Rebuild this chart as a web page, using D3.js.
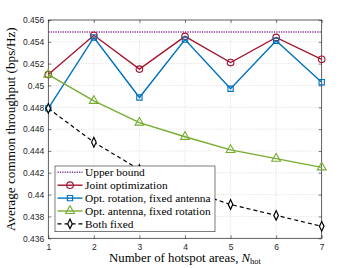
<!DOCTYPE html>
<html><head><meta charset="utf-8">
<script src="https://cdn.jsdelivr.net/npm/d3@7"></script>
<style>body{margin:0;background:#fff}svg{display:block}</style>
</head><body>
<svg id="c" width="357" height="268"></svg>
<script>
const xs = [1,2,3,4,5,6,7];
const upperBound = [0.4549,0.4549,0.4549,0.4549,0.4549,0.4549,0.4549];
const joint = [0.4510,0.4546,0.4515,0.4545,0.4521,0.4544,0.4524];
const optRot = [0.4479,0.4544,0.4489,0.4542,0.4497,0.4541,0.4503];
const optAnt = [0.4510,0.4486,0.4466,0.4453,0.4441,0.4433,0.4425];
const bothFixed = [0.4479,0.4448,0.4423,0.4405,0.4391,0.4381,0.4371];
const yTicks = [0.436,0.438,0.44,0.442,0.444,0.446,0.448,0.45,0.452,0.454,0.456];
const yTickLabels = ["0.436","0.438","0.44","0.442","0.444","0.446","0.448","0.45","0.452","0.454","0.456"];
const seriesNames = ["Upper bound","Joint optimization","Opt. rotation, fixed antenna","Opt. antenna, fixed rotation","Both fixed"];

const svg = d3.select("#c");
const L=48.3,R=321.7,T=20,B=238.3;
const x = d3.scaleLinear().domain([1,7]).range([L,R]);
const y = d3.scaleLinear().domain([0.436,0.456]).range([B,T]);

// grid
const g = svg.append("g");
g.selectAll(".gx").data(xs).join("line").attr("x1",d=>x(d)).attr("x2",d=>x(d)).attr("y1",T).attr("y2",B)
 .attr("stroke","#c8c8c8").attr("stroke-width",0.6).attr("stroke-dasharray","1,1.5");
g.selectAll(".gy").data(yTicks).join("line").attr("y1",d=>y(d)).attr("y2",d=>y(d)).attr("x1",L).attr("x2",R)
 .attr("stroke","#c8c8c8").attr("stroke-width",0.6).attr("stroke-dasharray","1,1.5");

// axes
const xAxis = d3.axisBottom(x).tickValues(xs).tickSize(-3).tickSizeOuter(0).tickPadding(6).tickFormat(d3.format("d"));
const yAxis = d3.axisLeft(y).tickValues(yTicks).tickSize(-3).tickSizeOuter(0).tickPadding(4).tickFormat((d,i)=>yTickLabels[i]);
svg.append("g").attr("transform",`translate(0,${B})`).call(xAxis);
svg.append("g").attr("transform",`translate(${L},0)`).call(yAxis);
svg.append("g").attr("transform",`translate(0,${T})`).call(d3.axisTop(x).tickValues(xs).tickSize(-3).tickSizeOuter(0).tickFormat(""));
svg.append("g").attr("transform",`translate(${R},0)`).call(d3.axisRight(y).tickValues(yTicks).tickSize(-3).tickSizeOuter(0).tickFormat(""));
svg.selectAll(".domain").remove();
svg.selectAll(".tick line").attr("stroke","#262626").attr("stroke-width",0.6);
svg.selectAll(".tick text").attr("font-family","'Liberation Sans', Arial, sans-serif").attr("font-size",8.5).attr("fill","#262626");
svg.append("rect").attr("x",L).attr("y",T).attr("width",R-L).attr("height",B-T).attr("fill","none").attr("stroke","#262626").attr("stroke-width",0.7);

const line = d3.line().x((d,i)=>x(xs[i])).y(d=>y(d));
const series = [
 {name:seriesNames[0],data:upperBound,color:"#7E2F8E",dash:"1.2,1.2",marker:null,w:1.6},
 {name:seriesNames[1],data:joint,color:"#A2142F",dash:null,marker:"circle",w:1.4},
 {name:seriesNames[2],data:optRot,color:"#0072BD",dash:null,marker:"square",w:1.4},
 {name:seriesNames[3],data:optAnt,color:"#77AC30",dash:null,marker:"triangle",w:1.4},
 {name:seriesNames[4],data:bothFixed,color:"#000000",dash:"4,3",marker:"diamond",w:1.2}
];
function drawMarker(sel,type,cx,cy,color){
  let sym;
  if(type==="circle") sym=d3.symbol(d3.symbolCircle,34);
  else if(type==="square") sym=d3.symbol(d3.symbolSquare,28);
  else if(type==="triangle") sym=d3.symbol(d3.symbolTriangle,34);
  else if(type==="diamond") sym=d3.symbol(d3.symbolDiamond,20);
  if(!sym) return;
  sel.append("path").attr("d",sym).attr("transform",`translate(${cx},${cy})${type==="diamond"?" scale(0.95,1.15)":""}`)
    .attr("fill",type==="diamond"?"#fff":"none").attr("stroke",color).attr("stroke-width",type==="diamond"?1.2:1.1);
}
series.forEach(s=>{
  const p = svg.append("path").attr("d",line(s.data)).attr("fill","none").attr("stroke",s.color).attr("stroke-width",s.w);
  if(s.dash) p.attr("stroke-dasharray",s.dash);
  if(s.marker){ const mg=svg.append("g"); s.data.forEach((v,i)=>drawMarker(mg,s.marker,x(xs[i]),y(v),s.color)); }
});

// legend
const lg = svg.append("g");
const lx=55, ly=166, lw=160, lh=65.7;
lg.append("rect").attr("x",lx).attr("y",ly).attr("width",lw).attr("height",lh).attr("fill","#fff").attr("stroke","#262626").attr("stroke-width",0.6);
series.forEach((s,i)=>{
  const yy = ly+6.3+i*12.9;
  const l = lg.append("line").attr("x1",lx+2.5).attr("x2",lx+27.5).attr("y1",yy).attr("y2",yy).attr("stroke",s.color).attr("stroke-width",s.w);
  if(s.dash) l.attr("stroke-dasharray",s.dash);
  if(s.marker) drawMarker(lg,s.marker,lx+15,yy,s.color);
  lg.append("text").attr("x",lx+30).attr("y",yy+3.8).text(s.name)
    .attr("font-family","'Liberation Serif', 'Times New Roman', serif").attr("font-size",11.4).attr("fill","#000");
});

// axis labels
svg.append("text").attr("transform",`translate(15,${(T+B)/2}) rotate(-90)`).attr("text-anchor","middle")
 .attr("font-family","'Liberation Serif', serif").attr("font-size",13.2).text("Average common throughput (bps/Hz)");
const xl = svg.append("text").attr("x",(L+R)/2).attr("y",262).attr("text-anchor","middle")
 .attr("font-family","'Liberation Serif', serif").attr("font-size",12.8);
xl.append("tspan").text("Number of hotspot areas, ");
xl.append("tspan").attr("font-style","italic").text("N");
xl.append("tspan").attr("font-size",8.5).attr("dy",2).text("hot");
</script>
</body></html>
